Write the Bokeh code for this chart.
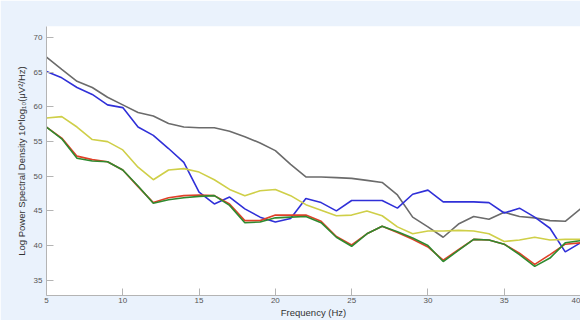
from bokeh.plotting import figure
from bokeh.models import Range1d, FixedTicker
from bokeh.embed import file_html
from bokeh.resources import INLINE

freq = list(range(5, 41))

gray = [67.2, 65.4, 63.7, 62.8, 61.4, 60.3, 59.2, 58.7, 57.6, 57.1, 57.0, 57.0, 56.5, 55.7, 54.8, 53.7,
        51.7, 49.9, 49.9, 49.8, 49.7, 49.4, 49.1, 47.3, 44.1, 42.7, 41.2, 43.1, 44.2, 43.8, 44.8, 44.2,
        44.0, 43.6, 43.5, 45.3]
blue = [65.1, 64.2, 62.8, 61.8, 60.3, 59.9, 57.1, 55.9, 54.0, 52.0, 47.7, 46.0, 47.0, 45.3, 44.1, 43.4,
        43.9, 46.8, 46.2, 45.0, 46.5, 46.5, 46.5, 45.4, 47.4, 48.0, 46.3, 46.3, 46.3, 46.2, 44.7, 45.4,
        44.1, 42.5, 39.1, 40.4]
yellow = [58.4, 58.6, 57.1, 55.3, 55.0, 53.8, 51.3, 49.5, 50.9, 51.1, 50.6, 49.5, 48.1, 47.2, 47.9, 48.1,
          47.2, 45.9, 45.1, 44.3, 44.4, 45.0, 44.3, 42.7, 41.7, 42.1, 42.1, 42.2, 42.1, 41.7, 40.6, 40.8,
          41.2, 40.8, 40.9, 40.9]
red = [57.1, 55.5, 52.9, 52.4, 52.1, 50.9, 48.5, 46.2, 46.9, 47.2, 47.3, 47.2, 46.0, 43.6, 43.6, 44.4,
       44.4, 44.4, 43.5, 41.3, 40.1, 41.7, 42.8, 41.9, 40.9, 39.8, 37.9, 39.4, 40.9, 40.8, 40.2, 38.9,
       37.3, 38.7, 40.2, 40.4]
green = [57.1, 55.4, 52.6, 52.2, 52.1, 50.9, 48.6, 46.1, 46.6, 46.9, 47.1, 47.2, 45.8, 43.3, 43.4, 44.0,
         44.1, 44.2, 43.3, 41.2, 39.9, 41.7, 42.8, 42.0, 41.1, 40.0, 37.7, 39.3, 40.9, 40.8, 40.2, 38.7,
         37.0, 38.2, 40.4, 40.7]

x_ticks = [5, 10, 15, 20, 25, 30, 35, 40]
y_ticks = [35, 40, 45, 50, 55, 60, 65, 70]

p = figure(width=580, height=320, output_backend="svg", toolbar_location=None,
           x_range=Range1d(5, 40), y_range=Range1d(32.8, 71.6),
           min_border_left=46, min_border_right=0, min_border_top=26, min_border_bottom=20)

p.border_fill_color = "#eaf2fc"
p.background_fill_color = "white"
p.outline_line_color = None
p.xgrid.grid_line_color = None
p.ygrid.grid_line_color = None

p.line(freq, gray, line_color="#6b6b6b", line_width=1.6)
p.line(freq, blue, line_color="#3030d8", line_width=1.6)
p.line(freq, yellow, line_color="#cfcf48", line_width=1.6)
p.line(freq, red, line_color="#e04028", line_width=1.6)
p.line(freq, green, line_color="#2f8a2f", line_width=1.6)

for ax, ticks in ((p.xaxis, x_ticks), (p.yaxis, y_ticks)):
    ax.ticker = FixedTicker(ticks=ticks)
    ax.major_tick_in = 7
    ax.major_tick_out = 0
    ax.minor_tick_line_color = None
    ax.axis_line_color = "#b4b4b4"
    ax.major_tick_line_color = "#b4b4b4"
    ax.major_label_text_font = "Liberation Sans"
    ax.major_label_text_font_size = "8px"
    ax.major_label_text_color = "#555555"
    ax.axis_label_text_font = "Liberation Sans"
    ax.axis_label_text_font_size = "9.5px"
    ax.axis_label_text_font_style = "normal"
    ax.axis_label_text_color = "#333333"

p.xaxis.axis_label = "Frequency (Hz)"
p.xaxis.major_label_standoff = 2
p.xaxis.axis_label_standoff = 1
p.yaxis.axis_label = "Log Power Spectral Density 10*log\u2081\u2080(\u03bcV\u00b2/Hz)"
p.yaxis.major_label_standoff = 4
p.yaxis.axis_label_standoff = 4

open("out.html", "w").write(file_html(p, INLINE))
